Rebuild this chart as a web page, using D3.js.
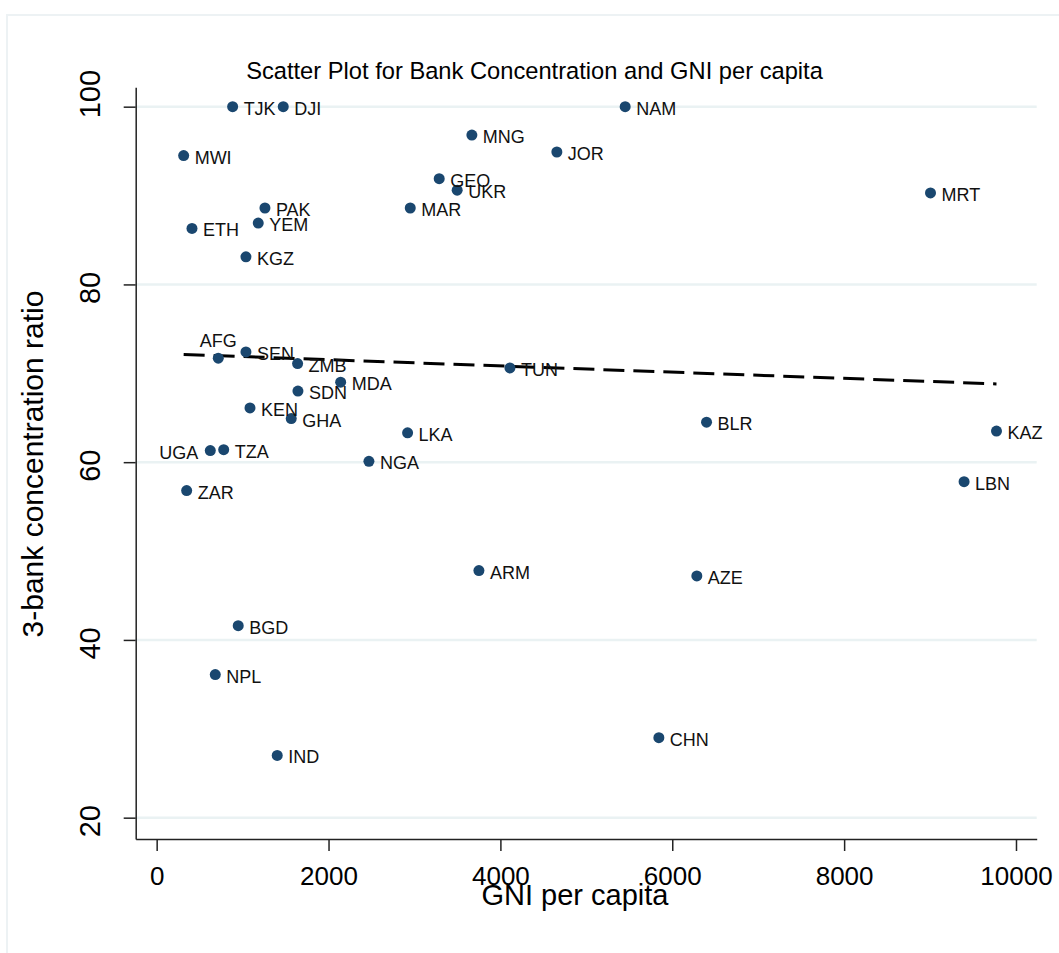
<!DOCTYPE html>
<html>
<head>
<meta charset="utf-8">
<script src="https://cdn.jsdelivr.net/npm/d3@7"></script>
<style>
  body { margin: 0; background: #fff; }
  svg { display: block; font-family: "Liberation Sans", Arial, sans-serif; }
</style>
</head>
<body>
<div id="chart"></div>
<script>
// country codes, GNI per capita and 3-bank concentration ratio
const countries = ["TJK", "DJI", "NAM", "MNG", "MWI", "JOR", "GEO", "UKR", "MRT", "PAK",
  "MAR", "ETH", "YEM", "KGZ", "AFG", "SEN", "ZMB", "TUN", "MDA", "SDN",
  "KEN", "GHA", "BLR", "KAZ", "LKA", "TZA", "UGA", "NGA", "LBN", "ZAR",
  "ARM", "AZE", "BGD", "NPL", "CHN", "IND"];
const gni = [884, 1473, 5452, 3668, 314, 4657, 3288, 3497, 9005, 1260,
  2951, 411, 1182, 1039, 717, 1039, 1640, 4111, 2141, 1644,
  1086, 1566, 6399, 9773, 2920, 780, 624, 2470, 9396, 349,
  3750, 6286, 949, 682, 5844, 1403];
const concentration = [100, 100, 100, 96.8, 94.5, 94.9, 91.9, 90.6, 90.3, 88.6,
  88.6, 86.3, 86.9, 83.1, 71.7, 72.4, 71.1, 70.6, 69.0, 68.0,
  66.1, 64.9, 64.5, 63.5, 63.3, 61.4, 61.3, 60.1, 57.8, 56.8,
  47.8, 47.2, 41.6, 36.1, 29.0, 27.0];
const xTicks = [0, 2000, 4000, 6000, 8000, 10000];
const yTicks = [20, 40, 60, 80, 100];
// labels not placed to the right of the marker
const labelAbove = ["AFG"];
const labelLeft = ["UGA"];

const W = 1059, H = 953;
const plot = { left: 135.7, right: 1036.7, top: 87.3, bottom: 839 };

const svg = d3.select("#chart").append("svg")
  .attr("width", W).attr("height", H);

// faint outer frame of the graph region
svg.append("rect")
  .attr("x", 7).attr("y", 15)
  .attr("width", W + 20).attr("height", H + 20)
  .attr("fill", "none")
  .attr("stroke", "#edf2f4")
  .attr("stroke-width", 2);

const x = d3.scaleLinear().domain([-244, 10241]).range([plot.left, plot.right]);
const y = d3.scaleLinear().domain([17.6, 102.18]).range([plot.bottom, plot.top]);

// gridlines
svg.append("g")
  .selectAll("line")
  .data(yTicks)
  .join("line")
  .attr("x1", plot.left).attr("x2", plot.right)
  .attr("y1", d => y(d)).attr("y2", d => y(d))
  .attr("stroke", "#eaf2f3")
  .attr("stroke-width", 2.5);

// axes
const xAxis = svg.append("g")
  .attr("transform", "translate(0," + plot.bottom + ")")
  .call(d3.axisBottom(x).tickValues(xTicks).tickSize(12).tickSizeOuter(0).tickFormat(d3.format("d")));
xAxis.selectAll("text")
  .attr("y", 46).attr("dy", null)
  .attr("font-size", "26px")
  .attr("fill", "#000");

const yAxis = svg.append("g")
  .attr("transform", "translate(" + plot.left + ",0)")
  .call(d3.axisLeft(y).tickValues(yTicks).tickSize(12).tickSizeOuter(0));
yAxis.selectAll("text")
  .attr("x", null).attr("dy", null)
  .attr("text-anchor", "middle")
  .attr("transform", d => "translate(-35.5," + (d === 100 ? -13 : 3) + ") rotate(-90)")
  .attr("font-size", "29px")
  .attr("fill", "#000");

[xAxis, yAxis].forEach(a => {
  a.select(".domain").attr("stroke", "#222").attr("stroke-width", 1.5);
  a.selectAll(".tick line").attr("stroke", "#222").attr("stroke-width", 1.5);
});

// linear fit (OLS) over the range of the data
const mx = d3.mean(gni), my = d3.mean(concentration);
const slope = d3.sum(gni, (v, i) => (v - mx) * (concentration[i] - my)) /
  d3.sum(gni, v => (v - mx) * (v - mx));
const intercept = my - slope * mx;
const fitX = d3.extent(gni);

svg.append("path")
  .datum(fitX)
  .attr("d", d3.line().x(d => x(d)).y(d => y(intercept + slope * d)))
  .attr("fill", "none")
  .attr("stroke", "#000")
  .attr("stroke-width", 3)
  .attr("stroke-dasharray", "21,9");

// markers
svg.append("g")
  .selectAll("circle")
  .data(countries)
  .join("circle")
  .attr("cx", (d, i) => x(gni[i]))
  .attr("cy", (d, i) => y(concentration[i]))
  .attr("r", 5.5)
  .attr("fill", "#1a476f");

// marker labels
svg.append("g")
  .selectAll("text")
  .data(countries)
  .join("text")
  .attr("x", (d, i) => {
    if (labelAbove.includes(d)) return x(gni[i]);
    if (labelLeft.includes(d)) return x(gni[i]) - 12;
    return x(gni[i]) + 11;
  })
  .attr("y", (d, i) => labelAbove.includes(d) ? y(concentration[i]) - 11.5 : y(concentration[i]) + 8)
  .attr("text-anchor", d => labelAbove.includes(d) ? "middle" : labelLeft.includes(d) ? "end" : "start")
  .attr("font-size", "18px")
  .attr("fill", "#111")
  .text(d => d);

// titles
svg.append("text")
  .attr("x", 534.5).attr("y", 78.5)
  .attr("text-anchor", "middle")
  .attr("font-size", "23.7px")
  .text("Scatter Plot for Bank Concentration and GNI per capita");

svg.append("text")
  .attr("x", 575).attr("y", 905)
  .attr("text-anchor", "middle")
  .attr("font-size", "29px")
  .text("GNI per capita");

svg.append("text")
  .attr("transform", "translate(43,464) rotate(-90)")
  .attr("text-anchor", "middle")
  .attr("font-size", "30px")
  .text("3-bank concentration ratio");
</script>
</body>
</html>
